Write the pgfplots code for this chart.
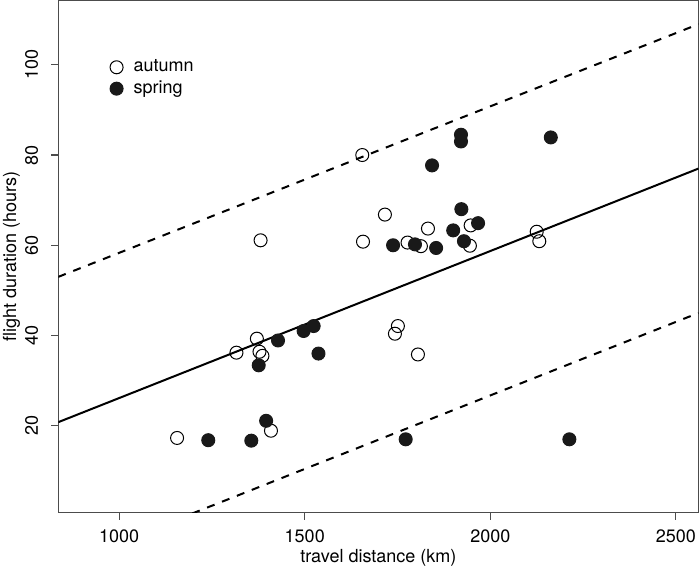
\documentclass[border=0pt]{standalone}
\usepackage{fontspec}
\setmainfont{TeX Gyre Heros}
\usepackage{graphicx}
\usepackage{pgfplots}
\pgfplotsset{compat=1.18}

\begin{document}
\begin{tikzpicture}
\begin{axis}[
    scale only axis,
    width=320pt, height=256pt,
    xmin=836, xmax=2561,
    ymin=0.7, ymax=114.2,
    xtick={1000,1500,2000,2500},
    ytick={20,40,60,80,100},
    tick pos=left,
    tick align=outside,
    major tick length=3.5pt,
    axis line style={black!70, line width=0.6pt},
    tick style={black!70, line width=0.6pt},
    font=\fontsize{9}{11}\selectfont,
    /pgf/number format/assume math mode=true,
    /pgf/number format/1000 sep={},
    xticklabel shift=1.5pt,
    yticklabel={\rotatebox{90}{\pgfmathprintnumber{\tick}}},
    yticklabel style={anchor=east},
    yticklabel shift=3pt,
    every axis x label/.style={at={(axis description cs:0.5,-0.088)}, anchor=center},
    every axis y label/.style={at={(axis description cs:-0.073,0.5)}, rotate=90, anchor=center},
    xlabel={travel distance (km)},
    ylabel={flight duration (hours)},
    legend style={draw=none, fill=none, inner sep=0pt, at={(axis cs:974.4,101.2)},
        anchor=north west, row sep=3pt, column sep=5.25pt,
        nodes={inner sep=0pt}, font=\fontsize{9}{11}\selectfont},
    legend cell align=left,
    legend image code/.code={\draw[#1] plot coordinates {(0pt,0pt)};},
]

% regression line and prediction band
\addplot[black, line width=1pt, forget plot] coordinates {(836,20.8) (2561,77.0)};
\addplot[black, line width=1pt, dash pattern=on 4pt off 4pt, forget plot] coordinates {(836,53.0) (2561,109.0)};
\addplot[black, line width=1pt, dash pattern=on 4pt off 4pt, forget plot] coordinates {(836,-11.2) (2561,45.0)};

% autumn
\addplot[only marks, mark=o, mark size=3.25pt,
    mark options={draw=black, line width=0.5pt}] coordinates {
    (1156,17.3) (1316,36.2) (1371,39.3) (1378,36.4) (1386,35.5)
    (1409,18.9) (1381,61.1) (1655,80.0) (1716,66.8) (1657,60.8)
    (1832,63.7) (1777,60.6) (1813,59.8) (1947,64.4) (1945,59.9)
    (2125,63.0) (2132,60.9) (1751,42.1) (1743,40.4) (1805,35.8)
};
\addlegendentry{autumn}

% spring
\addplot[only marks, mark=*, mark size=3.25pt,
    mark options={fill=black!90, draw=black!90, line width=0.5pt}] coordinates {
    (1240,16.8) (1356,16.7) (1396,21.1) (1376,33.4) (1428,38.9)
    (1497,41.0) (1524,42.1) (1537,36.0) (1772,17.0) (2213,17.0)
    (1921,84.5) (1921,83.0) (2163,83.9) (1843,77.7) (1922,68.0)
    (1967,64.9) (1900,63.3) (1929,60.9) (1738,60.0) (1797,60.2)
    (1854,59.4)
};
\addlegendentry{spring}

\end{axis}
\pgfresetboundingbox
\path[use as bounding box] (-29.15pt,-28.15pt) rectangle (320.75pt,256.35pt);
\end{tikzpicture}
\end{document}
